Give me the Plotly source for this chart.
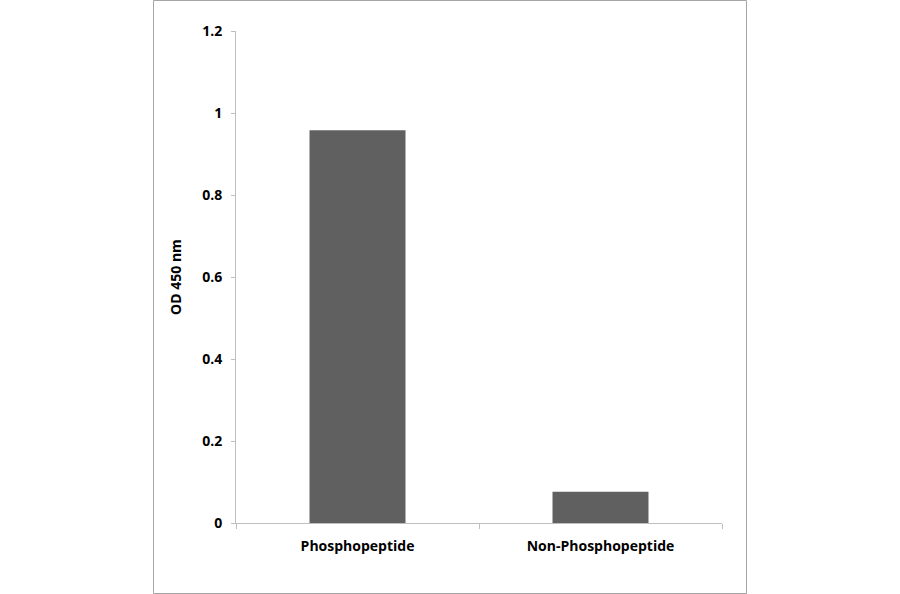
import plotly.graph_objects as go

categories = ["Phosphopeptide", "Non-Phosphopeptide"]
values = [0.958, 0.076]
y_ticks = [0, 0.2, 0.4, 0.6, 0.8, 1, 1.2]
y_tick_labels = ["0", "0.2", "0.4", "0.6", "0.8", "1", "1.2"]

FONT = "Open Sans"
AXIS_COLOR = "#bfbfbf"
FS = 14

L, R, T, B = 236, 178, 31, 71
pw, ph = 900 - L - R, 594 - T - B

fig = go.Figure(
    go.Bar(
        x=categories,
        y=values,
        marker=dict(color="#606060", line=dict(width=0)),
        width=0.395,
    )
)

def px_x(x):
    return (x - L) / pw

def px_y(y):
    return (594 - B - y) / ph

fig.add_shape(
    type="rect", xref="paper", yref="paper",
    x0=px_x(153.5), x1=px_x(746.5), y0=px_y(593.5), y1=px_y(0.5),
    line=dict(color="#a6a6a6", width=1), fillcolor="rgba(0,0,0,0)", layer="below",
)

fig.update_layout(
    width=900, height=594,
    margin=dict(l=L, r=R, t=T, b=B, pad=0),
    paper_bgcolor="white", plot_bgcolor="white",
    showlegend=False,
    font=dict(family=FONT, size=FS, color="black"),
    xaxis=dict(
        type="category",
        showline=True, linecolor=AXIS_COLOR, linewidth=1,
        ticks="outside", tickson="boundaries", ticklen=5, tickcolor=AXIS_COLOR,
        tickfont=dict(family=FONT, size=FS, color="black", weight="bold"),
        showgrid=False, zeroline=False,
        range=[-0.5, 1.5],
        ticklabelstandoff=10,
    ),
    yaxis=dict(
        range=[0, 1.2],
        tickvals=y_ticks, ticktext=y_tick_labels,
        showline=True, linecolor=AXIS_COLOR, linewidth=1,
        ticks="outside", ticklen=4, tickcolor=AXIS_COLOR,
        tickfont=dict(family=FONT, size=FS, color="black", weight="bold"),
        showgrid=False, zeroline=False,
        ticklabelstandoff=6,
        title=dict(text="OD 450 nm", font=dict(family=FONT, size=FS, color="black", weight="bold"), standoff=17),
    ),
)

fig.write_html(
    "out.html",
    config={"displayModeBar": False},
    post_script="document.body.style.margin='0';document.body.style.padding='0';",
)
